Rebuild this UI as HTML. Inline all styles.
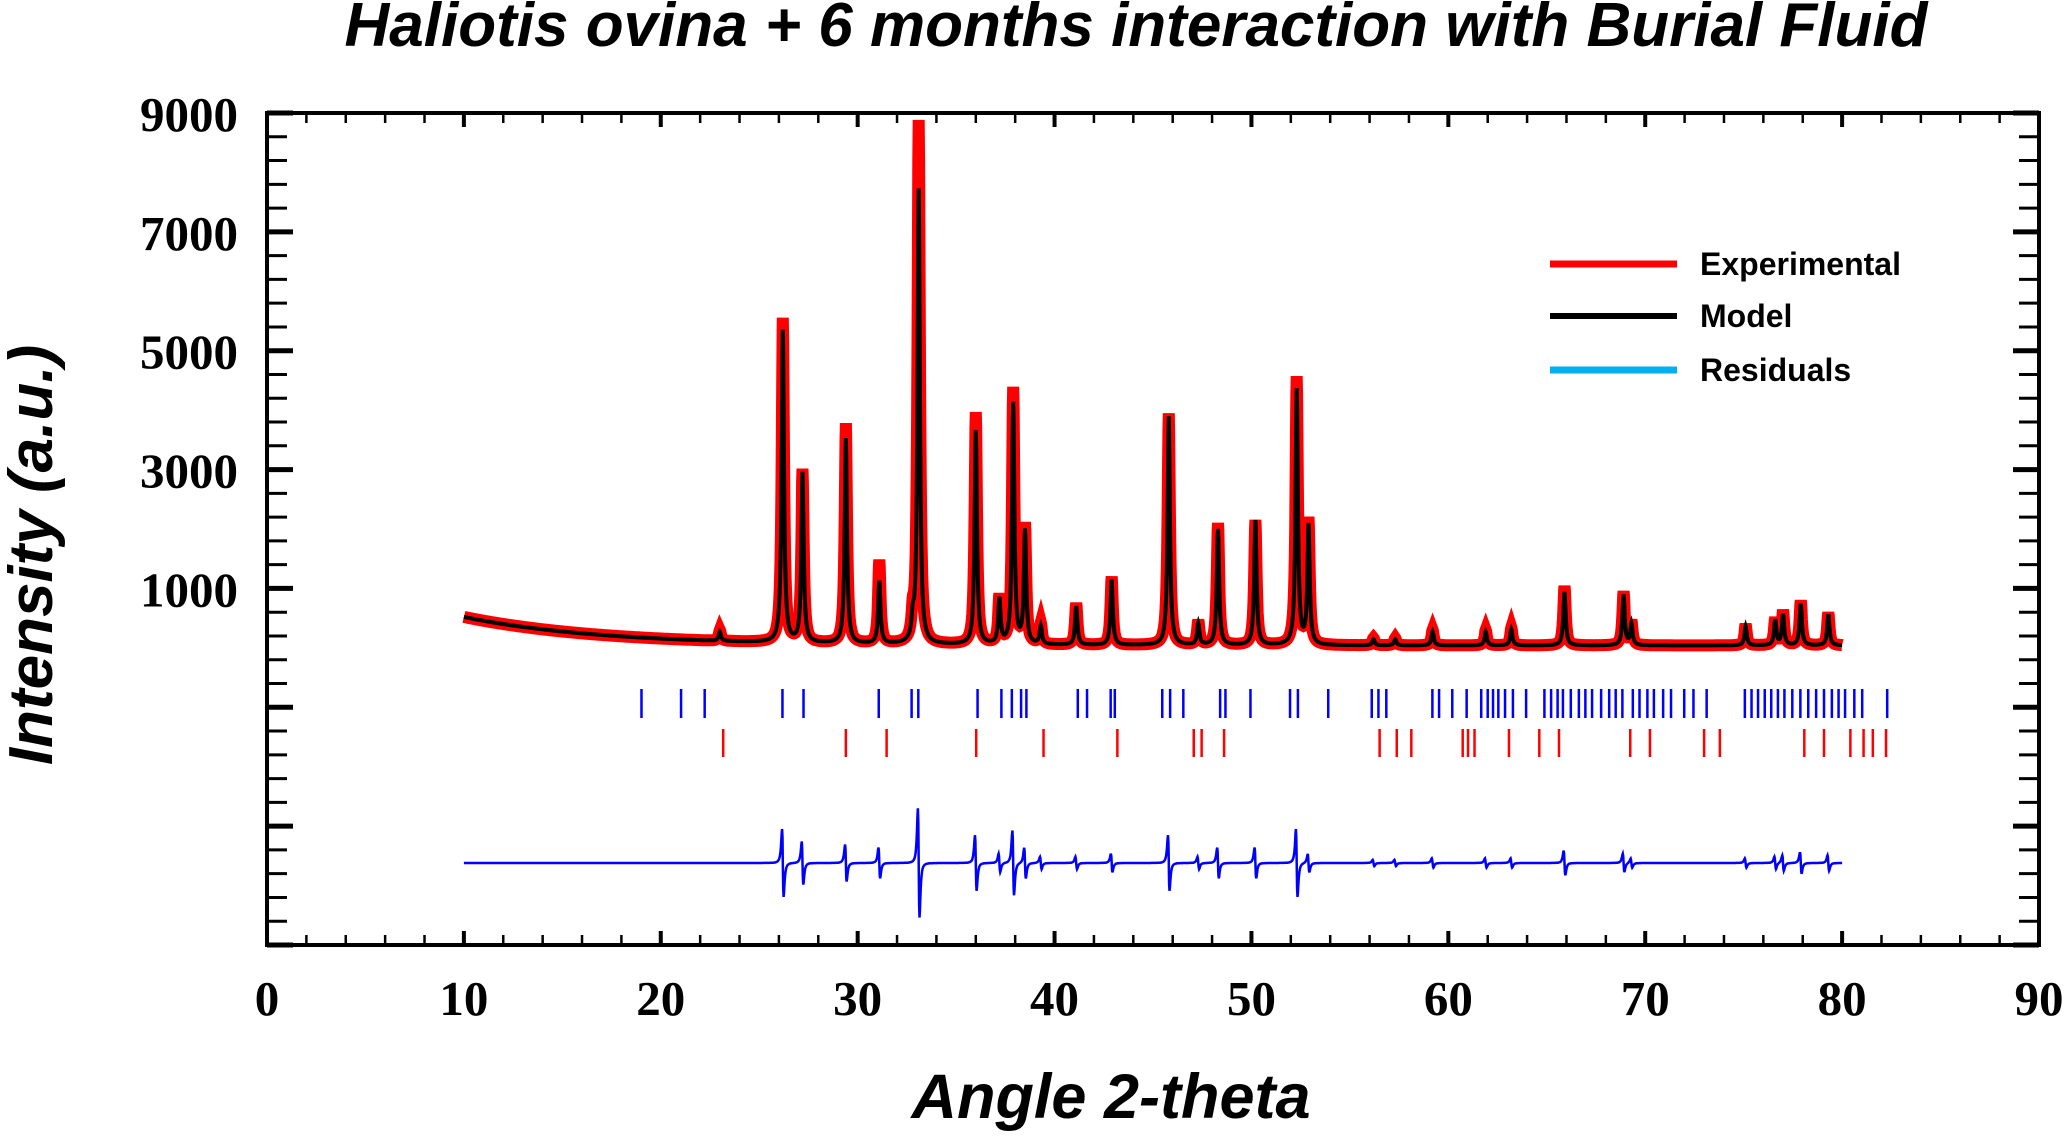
<!DOCTYPE html>
<html><head><meta charset="utf-8">
<style>
html,body{margin:0;padding:0;background:#fff;}
svg{display:block;}
.tl{font-family:"Liberation Serif",serif;font-weight:bold;font-size:49px;fill:#000;}
.ttl{font-family:"Liberation Sans",sans-serif;font-weight:bold;font-style:italic;fill:#000;}
.lg{font-family:"Liberation Sans",sans-serif;font-weight:bold;font-size:32px;fill:#000;}
</style></head>
<body>
<svg id="chart" width="2067" height="1137" viewBox="0 0 2067 1137" xmlns="http://www.w3.org/2000/svg">
<text class="ttl" x="1136" y="46" font-size="62" text-anchor="middle">Haliotis ovina + 6 months interaction with Burial Fluid</text>
<text class="ttl" x="1111" y="1118" font-size="63" text-anchor="middle">Angle 2-theta</text>
<text class="ttl" x="0" y="0" font-size="62" text-anchor="middle" transform="translate(52,555) rotate(-90)">Intensity (a.u.)</text>
<g id="ticks"></g>
<g id="series"></g>
<rect x="267" y="113" width="1772" height="832" fill="none" stroke="#000" stroke-width="4"/>
<g>
<line x1="1550" y1="264" x2="1677" y2="264" stroke="#ff0000" stroke-width="7"/>
<text class="lg" x="1700" y="275">Experimental</text>
<line x1="1550" y1="316" x2="1677" y2="316" stroke="#000" stroke-width="6"/>
<text class="lg" x="1700" y="327">Model</text>
<line x1="1550" y1="370" x2="1677" y2="370" stroke="#00b0f0" stroke-width="7"/>
<text class="lg" x="1700" y="381">Residuals</text>
</g>
</svg>
<script>
const xTicks = [0,10,20,30,40,50,60,70,80,90];
const yTickLabels = [1000,3000,5000,7000,9000];
const peakPos = [23.0,26.2,27.2,29.4,31.1,32.8,33.1,36.0,37.2,37.9,38.5,39.3,41.1,42.9,45.8,47.3,48.3,50.2,52.3,52.9,56.2,57.3,59.2,61.9,63.2,65.9,68.9,69.3,75.1,76.6,77.0,77.9,79.3];
const expHeights = [180,5450,2900,3700,1400,350,8800,3900,800,4300,2000,350,700,1150,3900,400,2050,2100,4500,2100,120,120,260,260,300,1000,900,400,350,450,580,750,550];
const modelHeights = [150,5250,2850,3450,1050,300,7650,3600,750,4050,1900,300,650,1100,3850,350,1950,2100,4300,2000,100,100,230,230,270,900,850,350,320,420,520,700,520];
const residAmp = [0,1100,700,600,500,0,1770,900,300,1050,500,200,200,300,900,200,500,500,1100,300,100,100,150,150,150,400,300,150,150,200,250,350,250];
const blueRefl = [19.02,21.03,22.23,26.18,27.25,31.07,32.74,33.08,36.09,37.30,37.83,38.30,38.57,41.18,41.65,42.85,43.06,45.47,45.87,46.54,48.41,48.68,49.95,51.96,52.36,53.90,56.11,56.45,56.85,59.19,59.53,60.20,60.93,61.67,62.00,62.27,62.54,62.88,63.28,63.95,64.88,65.22,65.55,65.82,66.22,66.63,66.96,67.30,67.76,68.17,68.50,68.84,69.37,69.71,70.11,70.44,70.91,71.31,71.98,72.45,73.12,75.06,75.40,75.73,76.07,76.40,76.74,77.07,77.47,77.88,78.28,78.68,79.08,79.48,79.82,80.15,80.62,81.02,82.29];
const redRefl = [23.17,29.40,31.47,36.02,39.44,43.19,47.07,47.47,48.61,56.51,57.38,58.12,60.73,61.00,61.33,63.08,64.62,65.62,69.24,70.24,72.99,73.79,78.08,79.08,80.42,81.09,81.56,82.23];

const NS='http://www.w3.org/2000/svg';
const X0=267,X1=2039,Y0=113,Y1=945,YMAX=9000,YMIN=-5000;
function sx(v){return X0+(v-0)/90*(X1-X0);}
function sy(v){return Y0+(YMAX-v)/(YMAX-YMIN)*(Y1-Y0);}
function mk(tag,attrs,parent){const e=document.createElementNS(NS,tag);for(const k in attrs)e.setAttribute(k,attrs[k]);parent.appendChild(e);return e;}
const tg=document.getElementById('ticks');
for(let v=0;v<=90;v+=2){const major=v%10===0;const L=major?14:10;const w=major?4:2.5;
 let t=mk('line',{x1:sx(v),x2:sx(v),y1:Y1,y2:Y1-L,stroke:'#000','stroke-width':w},tg);
 
 
 let t2=mk('line',{x1:sx(v),x2:sx(v),y1:Y0,y2:Y0+L,stroke:'#000','stroke-width':w},tg);
 
 }
xTicks.forEach(v=>{const t=mk('text',{x:sx(v),y:1015,'text-anchor':'middle',class:'tl'},tg);t.textContent=v;
 
 });
for(let v=YMIN;v<=YMAX;v+=400){const major=((v-1000)%2000===0);const L=major?26:20;const w=major?5:3;
 let t=mk('line',{x1:X0,x2:X0+L,y1:sy(v),y2:sy(v),stroke:'#000','stroke-width':w},tg);
 
 
 let t2=mk('line',{x1:X1,x2:X1-L,y1:sy(v),y2:sy(v),stroke:'#000','stroke-width':w},tg);
 
 }
yTickLabels.forEach(v=>{const t=mk('text',{x:238,y:sy(v)+18,'text-anchor':'end',class:'tl'},tg);t.textContent=v;
 
 });

const sg=document.getElementById('series');
function bg(x){return 40+480*Math.exp(-(x-10)/7);}
const W=0.07;
function prof(x,h){let s=bg(x);for(let i=0;i<peakPos.length;i++){const d=(x-peakPos[i])/W;s+=h[i]/(1+d*d);}return s;}
function resid(x){let s=0;for(let i=0;i<peakPos.length;i++){const d=(x-peakPos[i])/W;s+=residAmp[i]*(-2*d)/((1+d*d)*(1+d*d))*0.8;}return s;}
let pe=[],pm=[],pr=[];
for(let x=10;x<=80.001;x+=0.02){pe.push(sx(x).toFixed(1)+','+sy(prof(x,expHeights)).toFixed(1));
 pm.push(sx(x).toFixed(1)+','+sy(prof(x,modelHeights)).toFixed(1));
 pr.push(sx(x).toFixed(1)+','+sy(-3620+resid(x)).toFixed(1));}
let e=mk('polyline',{points:pe.join(' '),fill:'none',stroke:'#ff0000','stroke-width':12,'stroke-linejoin':'miter'},sg);


let m=mk('polyline',{points:pm.join(' '),fill:'none',stroke:'#000','stroke-width':4},sg);


let r=mk('polyline',{points:pr.join(' '),fill:'none',stroke:'#0000ff','stroke-width':2.5},sg);


blueRefl.forEach(v=>{let l=mk('line',{x1:sx(v),x2:sx(v),y1:689,y2:718,stroke:'#0000ff','stroke-width':2.5},sg);
 
 });
redRefl.forEach(v=>{let l=mk('line',{x1:sx(v),x2:sx(v),y1:729,y2:757,stroke:'#ff0000','stroke-width':2.5},sg);
 
 });
</script>
</body></html>
